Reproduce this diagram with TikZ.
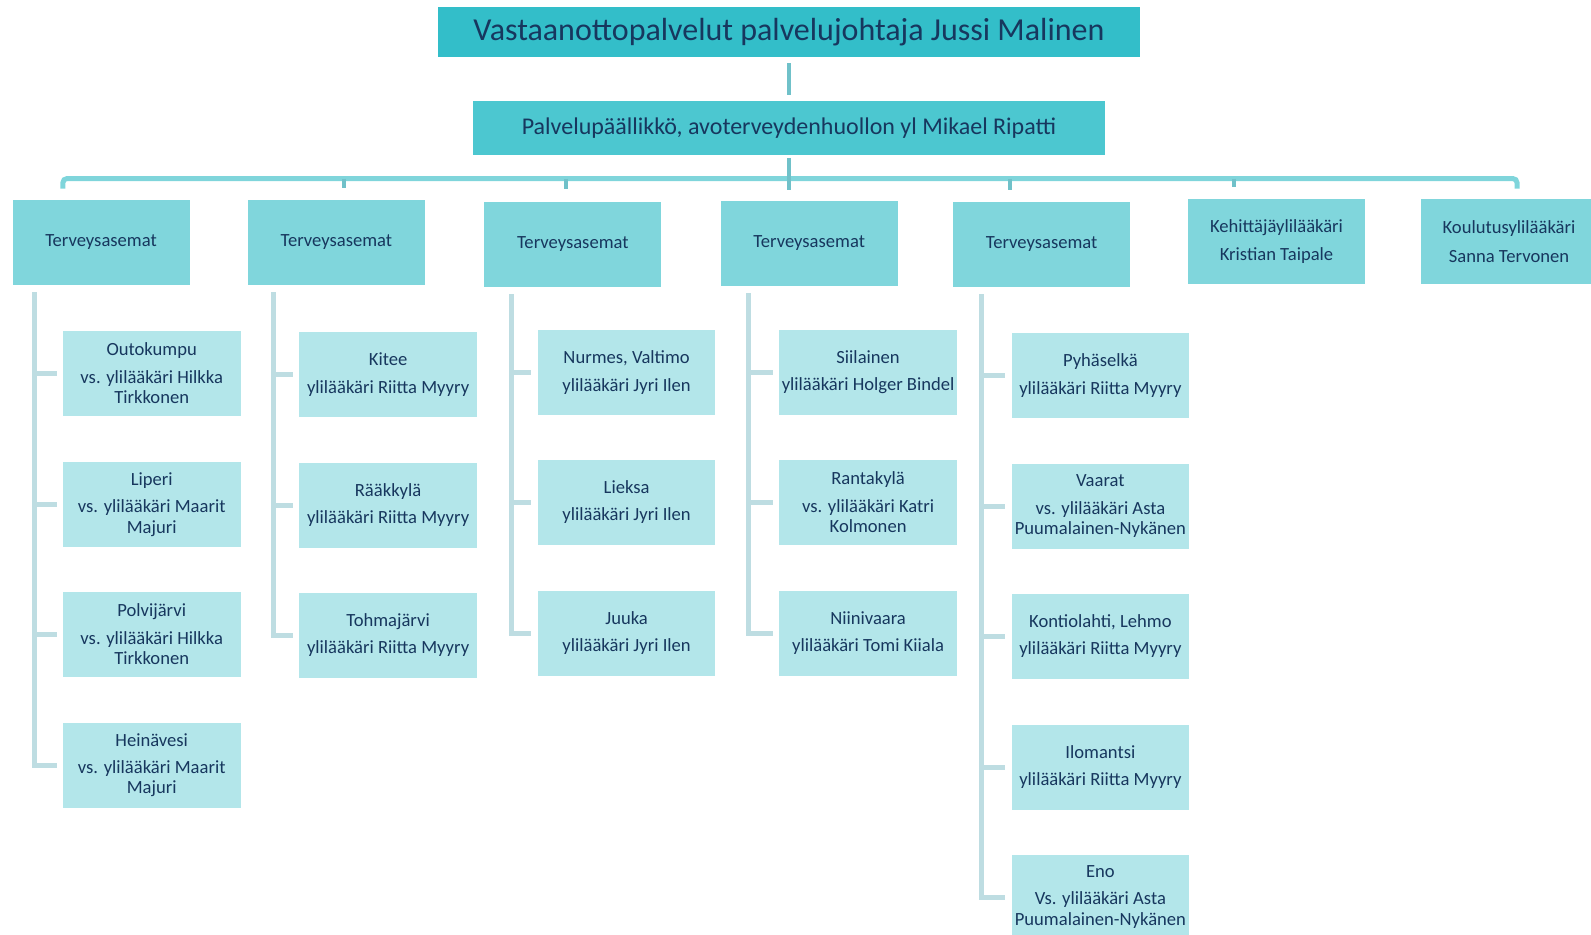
\documentclass[tikz,border=0pt]{standalone}
\usepackage{fontspec}
\setmainfont{Carlito}
\usetikzlibrary{calc}
\definecolor{ink}{HTML}{17375E}
\definecolor{headfill}{HTML}{33BEC9}
\definecolor{chieffill}{HTML}{4CC7D0}
\definecolor{unitfill}{HTML}{80D6DC}
\definecolor{sitefill}{HTML}{B3E6EA}
\definecolor{busline}{HTML}{7FD5DB}
\definecolor{dropline}{HTML}{70C1C9}
\definecolor{stemline}{HTML}{BEDDE2}
\tikzset{
  head/.style={fill=headfill, text=ink, minimum width=351pt, minimum height=25pt,
    inner sep=0pt, font=\fontsize{16}{19}\selectfont},
  chief/.style={fill=chieffill, text=ink, minimum width=316pt, minimum height=27pt,
    inner sep=0pt, font=\fontsize{12}{14}\selectfont},
  unit/.style={fill=unitfill, text=ink, minimum width=88.5pt, minimum height=42.5pt,
    inner sep=0pt, align=center, font=\fontsize{9.3}{10.2}\selectfont},
  site/.style={fill=sitefill, text=ink, minimum width=88.8pt, minimum height=42.5pt,
    inner sep=0pt, align=center, font=\fontsize{9.3}{10.2}\selectfont},
  bus/.style={draw=busline, line width=2.5pt},
  drop/.style={draw=dropline, line width=2pt},
  stem/.style={draw=stemline, line width=2.5pt},
}
\begin{document}
\begin{tikzpicture}[x=0.5pt,y=-0.5pt]
  \useasboundingbox (0,0) rectangle (1591,934);
  %johto
  \node[head] (head) at (789,32) {Vastaanottopalvelut palvelujohtaja Jussi Malinen};
  \node[chief] (chief) at (789,128.4) {Palvelupäällikkö, avoterveydenhuollon yl Mikael Ripatti};
  \draw[drop, shorten <=3pt, shorten >=3pt] (head) -- (chief);
  %toinen taso
  \node[unit] (t1) at (101,242.5) {Terveysasemat};
  \node[unit] (t2) at (336.4,242.5) {Terveysasemat};
  \node[unit] (t3) at (572.8,244) {Terveysasemat};
  \node[unit] (t4) at (809.2,243) {Terveysasemat};
  \node[unit] (t5) at (1041.6,244.5) {Terveysasemat};
  \node[unit] (t6) at (1276.5,241.5) {Kehittäjäylilääkäri\\[4pt]Kristian Taipale};
  \node[unit] (t7) at (1509,241.5) {Koulutusylilääkäri\\[4pt]Sanna Tervonen};
  %väylä
  \coordinate (d1) at (62.9,178.6);
  \coordinate (d2) at (344,178.6);
  \coordinate (d3) at (566,178.6);
  \coordinate (d5) at (1009.6,178.6);
  \coordinate (d6) at (1234,178.6);
  \coordinate (d7) at (1517,178.6);
  \draw[bus, rounded corners=2pt] ([yshift=-5pt]d1) -- (d1) -- (d7) -- ([yshift=-5pt]d7);
  \draw[drop, shorten >=5pt] ([yshift=-1pt]chief.south) -- (chief.south |- t4.north);
  \draw[drop, shorten >=6pt] (d2) -- (d2 |- t2.north);
  \draw[drop, shorten >=6pt] (d3) -- (d3 |- t3.north);
  \draw[drop, shorten >=6pt] (d5) -- (d5 |- t5.north);
  \draw[drop, shorten >=6pt] (d6) -- (d6 |- t6.north);
  %terveysasemat 1
  \node[site] (c11) at (151.7,373.4) {Outokumpu\\[3.5pt]vs. ylilääkäri Hilkka\\Tirkkonen};
  \node[site] (c12) at (151.7,504.3) {Liperi\\[3.5pt]vs. ylilääkäri Maarit\\Majuri};
  \node[site] (c13) at (151.7,634.2) {Polvijärvi\\[3.5pt]vs. ylilääkäri Hilkka\\Tirkkonen};
  \node[site] (c14) at (151.7,765.1) {Heinävesi\\[3.5pt]vs. ylilääkäri Maarit\\Majuri};
  %terveysasemat 2
  \node[site] (c21) at (388.1,374.4) {Kitee\\[3.5pt]ylilääkäri Riitta Myyry};
  \node[site] (c22) at (388.1,505.3) {Rääkkylä\\[3.5pt]ylilääkäri Riitta Myyry};
  \node[site] (c23) at (388.1,635.2) {Tohmajärvi\\[3.5pt]ylilääkäri Riitta Myyry};
  %terveysasemat 3
  \node[site] (c31) at (626.6,372.4) {Nurmes, Valtimo\\[3.5pt]ylilääkäri Jyri Ilen};
  \node[site] (c32) at (626.6,502.3) {Lieksa\\[3.5pt]ylilääkäri Jyri Ilen};
  \node[site] (c33) at (626.6,633.2) {Juuka\\[3.5pt]ylilääkäri Jyri Ilen};
  %terveysasemat 4
  \node[site] (c41) at (868.1,372.4) {Siilainen\\[3.5pt]ylilääkäri Holger Bindel};
  \node[site] (c42) at (868.1,502.3) {Rantakylä\\[3.5pt]vs. ylilääkäri Katri\\Kolmonen};
  \node[site] (c43) at (868.1,633.2) {Niinivaara\\[3.5pt]ylilääkäri Tomi Kiiala};
  %terveysasemat 5
  \node[site] (c51) at (1100.4,375.4) {Pyhäselkä\\[3.5pt]ylilääkäri Riitta Myyry};
  \node[site] (c52) at (1100.4,506.3) {Vaarat\\[3.5pt]vs. ylilääkäri Asta\\Puumalainen-Nykänen};
  \node[site] (c53) at (1100.4,636.2) {Kontiolahti, Lehmo\\[3.5pt]ylilääkäri Riitta Myyry};
  \node[site] (c54) at (1100.4,767.1) {Ilomantsi\\[3.5pt]ylilääkäri Riitta Myyry};
  \node[site] (c55) at (1100.4,897) {Eno\\[3.5pt]Vs. ylilääkäri Asta\\Puumalainen-Nykänen};
  %rungot
  \coordinate (s1) at (34.5,292.2);
  \coordinate (s2) at (273,292.2);
  \coordinate (s3) at (511.4,294);
  \coordinate (s4) at (748.8,293);
  \coordinate (s5) at (981.2,294);
  \draw[stem] (s1) |- ([xshift=-3pt]c14.west);
  \draw[stem] (s1 |- c11.west) -- ([xshift=-3pt]c11.west);
  \draw[stem] (s1 |- c12.west) -- ([xshift=-3pt]c12.west);
  \draw[stem] (s1 |- c13.west) -- ([xshift=-3pt]c13.west);
  \draw[stem] (s2) |- ([xshift=-3pt]c23.west);
  \draw[stem] (s2 |- c21.west) -- ([xshift=-3pt]c21.west);
  \draw[stem] (s2 |- c22.west) -- ([xshift=-3pt]c22.west);
  \draw[stem] (s3) |- ([xshift=-3pt]c33.west);
  \draw[stem] (s3 |- c31.west) -- ([xshift=-3pt]c31.west);
  \draw[stem] (s3 |- c32.west) -- ([xshift=-3pt]c32.west);
  \draw[stem] (s4) |- ([xshift=-3pt]c43.west);
  \draw[stem] (s4 |- c41.west) -- ([xshift=-3pt]c41.west);
  \draw[stem] (s4 |- c42.west) -- ([xshift=-3pt]c42.west);
  \draw[stem] (s5) |- ([xshift=-3pt]c55.west);
  \draw[stem] (s5 |- c51.west) -- ([xshift=-3pt]c51.west);
  \draw[stem] (s5 |- c52.west) -- ([xshift=-3pt]c52.west);
  \draw[stem] (s5 |- c53.west) -- ([xshift=-3pt]c53.west);
  \draw[stem] (s5 |- c54.west) -- ([xshift=-3pt]c54.west);
\end{tikzpicture}
\end{document}
